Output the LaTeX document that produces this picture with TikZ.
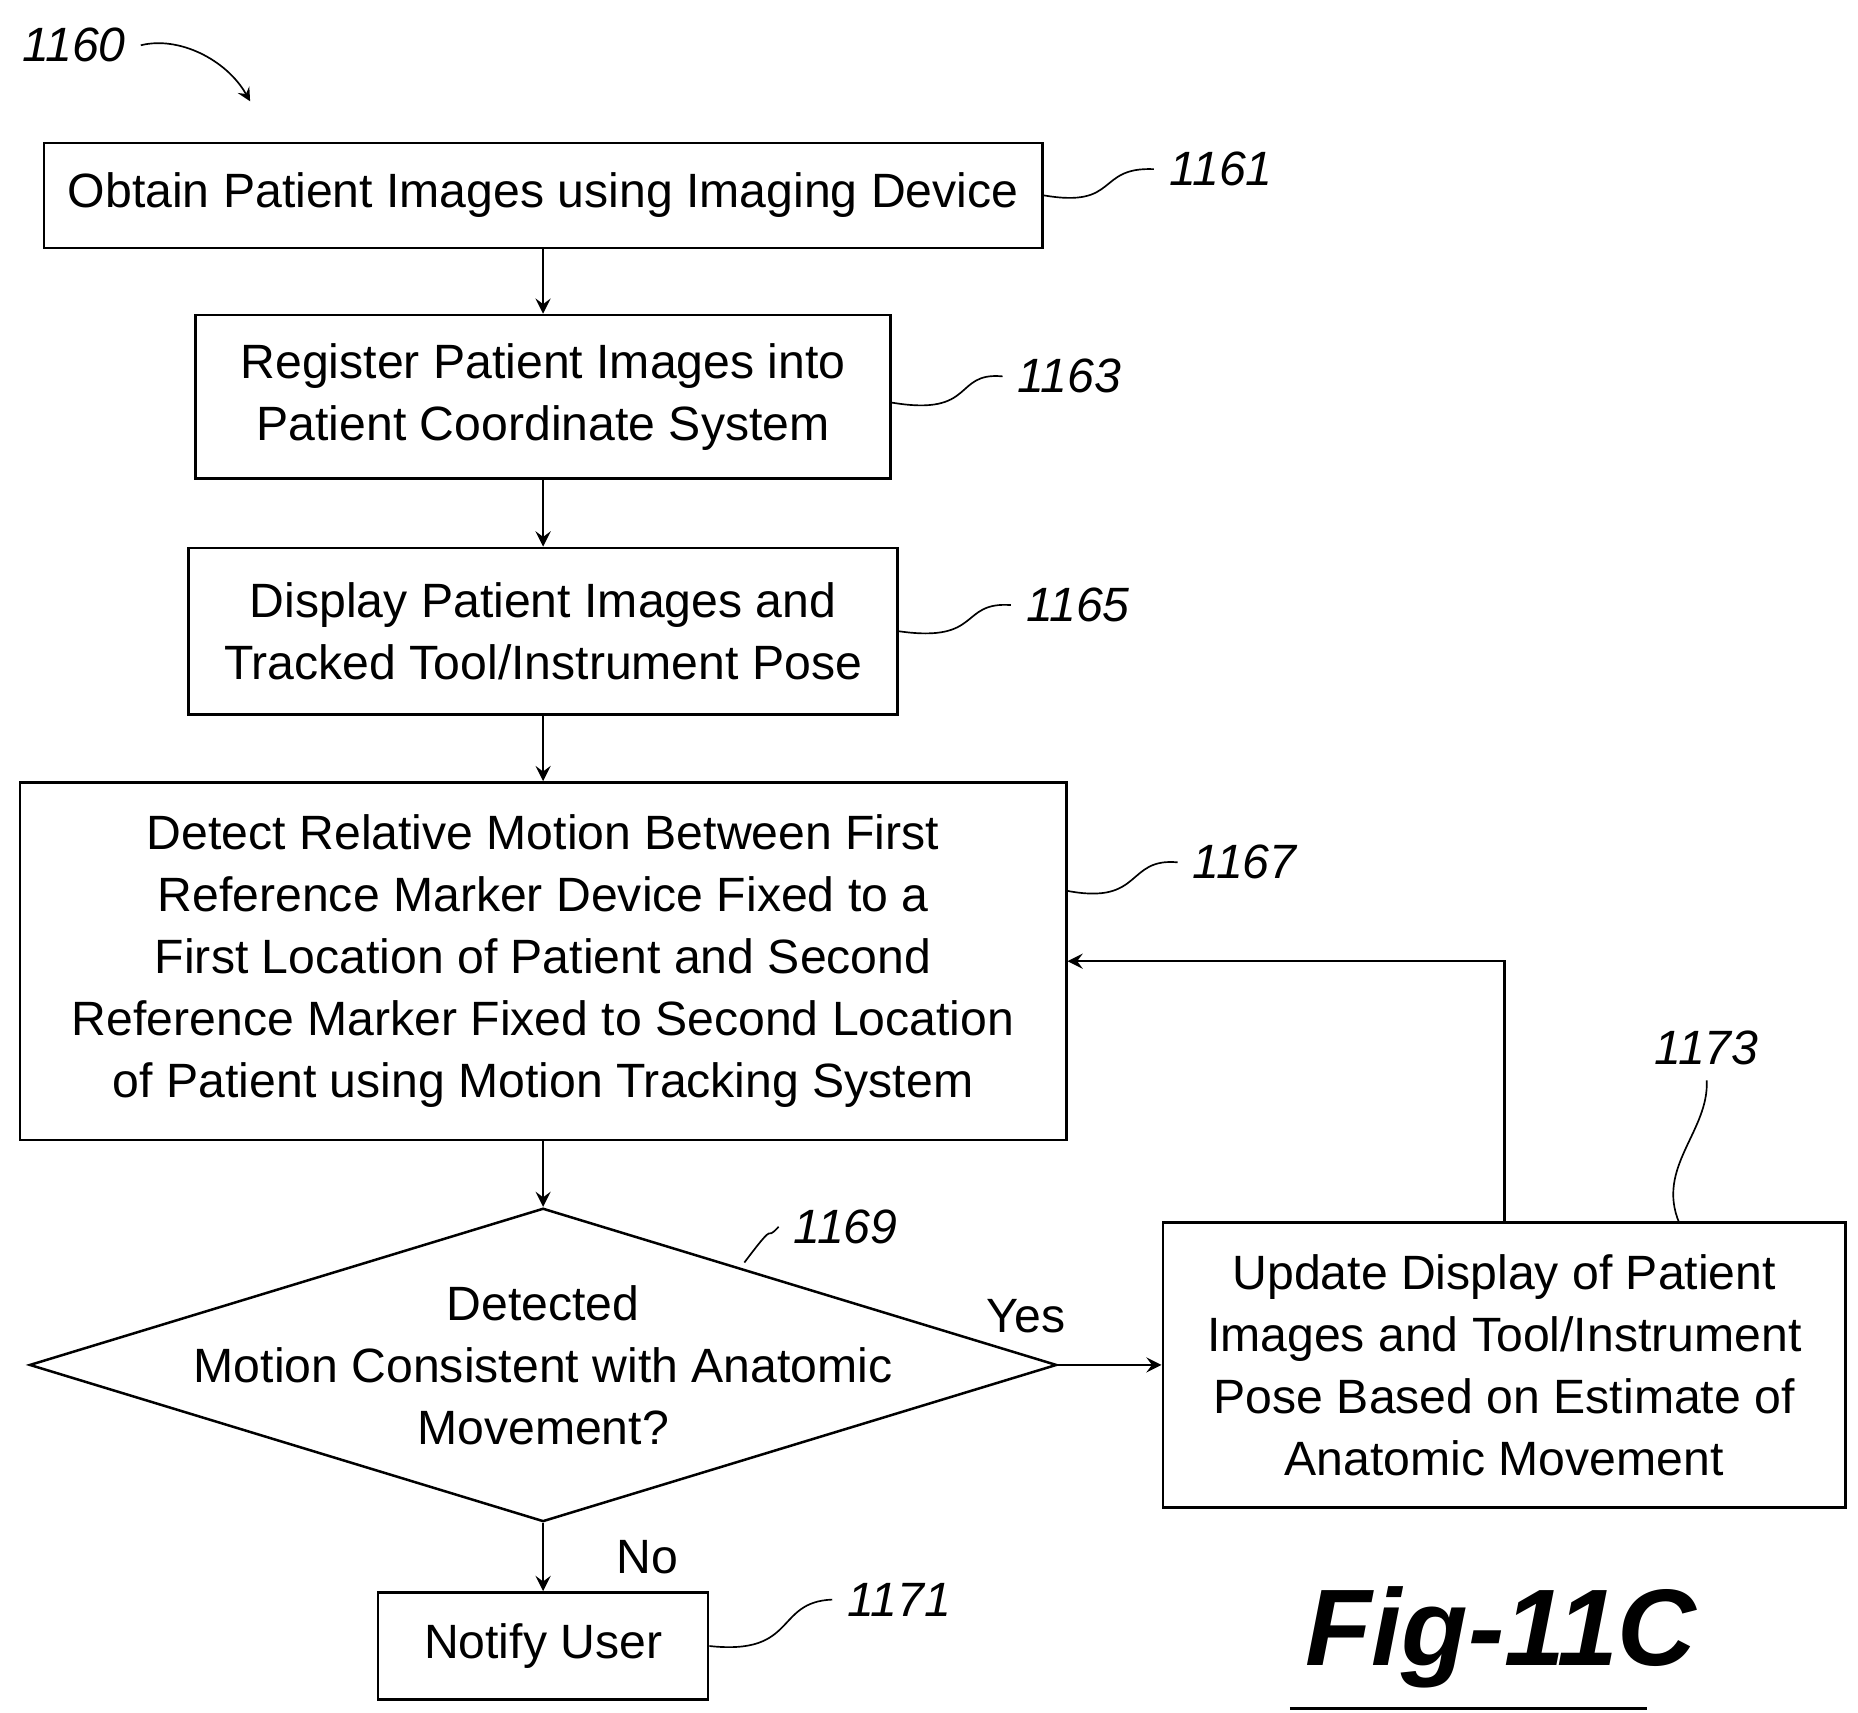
\documentclass[tikz,border=0pt]{standalone}
\usepackage{fontspec}
\setmainfont{Liberation Sans}
\usetikzlibrary{shapes.geometric}
\begin{document}
\begin{tikzpicture}[>=stealth, semithick, x=0.01cm, y=-0.01cm,
  box/.style={draw, align=center, inner sep=0pt, font=\fontsize{11.5}{14.8}\selectfont},
  refnum/.style={font=\itshape\fontsize{11.5}{14}\selectfont},
  lead/.style={thin}]
\useasboundingbox (0,0) rectangle (1560,1438);

% ============================
% Boxes
% ============================
\node[box, minimum width=8.38cm, minimum height=0.88cm] (obtain)   at (456,164) {Obtain Patient Images using Imaging Device};
\node[box, minimum width=5.83cm, minimum height=1.37cm] (register) at (456,333) {Register Patient Images into\\Patient Coordinate System};
\node[box, minimum width=5.95cm, minimum height=1.40cm] (display)  at (456,530) {Display Patient Images and\\Tracked Tool/Instrument Pose};
\node[box, minimum width=8.78cm, minimum height=3.00cm] (detect)   at (456,807) {Detect Relative Motion Between First\\Reference Marker Device Fixed to a\\First Location of Patient and Second\\Reference Marker Fixed to Second Location\\of Patient using Motion Tracking System};
\node[box, diamond, aspect=3.28, minimum width=8.62cm, minimum height=2.63cm] (check) at (456,1146) {};
\node[box, draw=none] (checktxt) at (check) {Detected\\Motion Consistent with Anatomic\\Movement?};
\node[box, minimum width=5.73cm, minimum height=2.39cm] (update)   at (1263,1146) {Update Display of Patient\\Images and Tool/Instrument\\Pose Based on Estimate of\\Anatomic Movement};
\node[box, minimum width=2.77cm, minimum height=0.90cm] (notify)   at (456,1382) {Notify User};

% ============================
% Flow arrows
% ============================
\draw[->] (obtain) -- (register);
\draw[->] (register) -- (display);
\draw[->] (display) -- (detect);
\draw[->] (detect) -- (check);
\draw[->] (check) -- node[above=4pt, xshift=-20pt, font=\fontsize{11.5}{14}\selectfont] {Yes} (update);
\draw[->] (check) -- node[right=14pt, font=\fontsize{11.5}{14}\selectfont] {No} (notify);
\draw[->] (update.north) |- (detect.east |- 0,807);

% ============================
% Reference numerals
% ============================
\node[refnum] (n1160) at (62,38) {1160};
\node[refnum] (n1161) at (1025,142) {1161};
\node[refnum] (n1163) at (898,316) {1163};
\node[refnum] (n1165) at (905,508) {1165};
\node[refnum] (n1167) at (1045,724) {1167};
\node[refnum] (n1169) at (710,1030) {1169};
\node[refnum] (n1173) at (1433,880) {1173};
\node[refnum] (n1171) at (755,1343) {1171};

\draw[lead, ->] (n1160.east) .. controls (150,30) and (190,50) .. (210,85);
\draw[lead] (obtain.east |- 0,164) .. controls (940,175) and (920,140) .. (n1161.west);
\draw[lead] (register.east |- 0,338) .. controls (820,350) and (800,312) .. (n1163.west);
\draw[lead] (display.east |- 0,530) .. controls (825,540) and (805,505) .. (n1165.west);
\draw[lead] (detect.east |- 0,748) .. controls (960,760) and (945,720) .. (n1167.west);
\draw[lead] (625,1060) .. controls (655,1020) and (640,1045) .. (n1169.west);
\draw[lead] (1410,1027) .. controls (1390,980) and (1435,950) .. (n1173.south);
\draw[lead] (notify.east) .. controls (670,1390) and (650,1345) .. (n1171.west);

% Figure caption
\node[font=\bfseries\itshape\fontsize{26}{28}\selectfont] (fig) at (1260,1375) {Fig-11C};
\draw[thick] (fig.south west) ++(0,4) -- ++(300,0);
\end{tikzpicture}
\end{document}
